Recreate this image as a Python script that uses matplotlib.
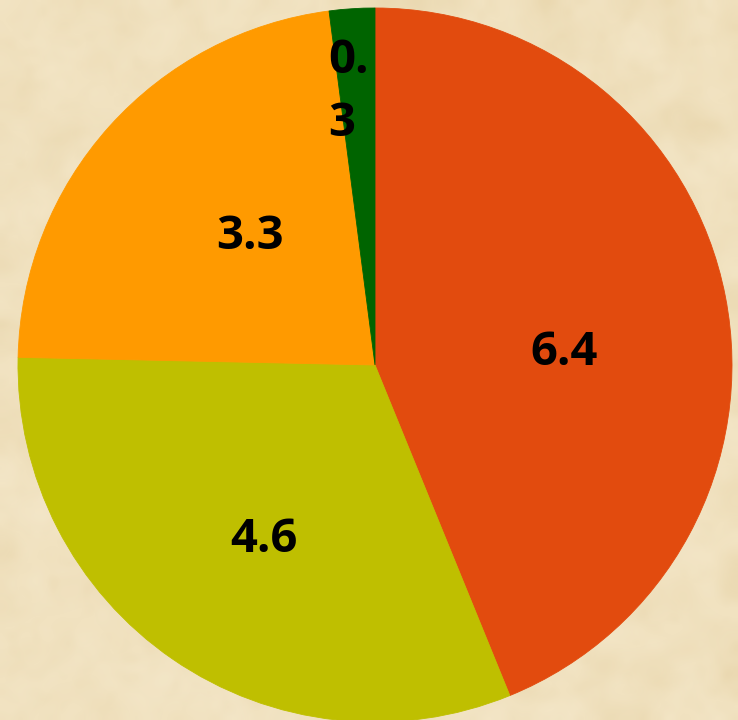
import numpy as np
import matplotlib
matplotlib.use("Agg")
import matplotlib.pyplot as plt
from matplotlib.colors import LinearSegmentedColormap

# Slice values, clockwise from 12 o'clock
values = [6.4, 4.6, 3.3, 0.3]
labels = ["6.4", "4.6", "3.3", "0.\n3"]
colors = ["#E24B0E", "#BFBF00", "#FF9A00", "#006400"]

W, H, DPI = 738, 720, 100
fig = plt.figure(figsize=(W / DPI, H / DPI), dpi=DPI)

# Parchment-like backdrop
bg = fig.add_axes([0, 0, 1, 1])
bg.set_axis_off()
rng = np.random.default_rng(7)
coarse = rng.normal(size=(36, 36))
fine = rng.normal(size=(90, 90))
parch = LinearSegmentedColormap.from_list("parch", ["#E6D2A6", "#F1E2C0", "#F7EBD0"])
bg.imshow(coarse, cmap=parch, interpolation="bicubic", extent=[0, 1, 0, 1],
          aspect="auto", vmin=-2.5, vmax=2.5)
bg.imshow(fine, cmap=parch, interpolation="bicubic", extent=[0, 1, 0, 1],
          aspect="auto", vmin=-3, vmax=3, alpha=0.35)
bg.set_xlim(0, 1)
bg.set_ylim(0, 1)

# Pie axes: centre (375, 365) px from top-left, radius 357 px
cx, cy, r = 375, H - 365, 357
ax = fig.add_axes([(cx - r) / W, (cy - r) / H, 2 * r / W, 2 * r / H])
ax.set_axis_off()
ax.patch.set_alpha(0)

wedges, texts = ax.pie(values, colors=colors, startangle=90, counterclock=False,
                       radius=1.0, labels=labels, labeldistance=0.55,
                       wedgeprops=dict(linewidth=0.6, edgecolor="none"),
                       textprops=dict(fontsize=34, fontweight="bold",
                                      family=["Open Sans", "DejaVu Sans"],
                                      color="black", ha="center", va="center"))
for w, c in zip(wedges, colors):
    w.set_edgecolor(c)

# Label placement inside each slice (data units of the pie)
label_pos = [(0.53, 0.035), (-0.31, -0.49), (-0.35, 0.36), (-0.075, 0.765)]
for t, (x, y) in zip(texts, label_pos):
    t.set_position((x, y))
texts[3].set_multialignment("left")
texts[3].set_linespacing(1.45)

ax.set_xlim(-1, 1)
ax.set_ylim(-1, 1)
ax.set_aspect("equal")

fig.savefig("out.png", dpi=DPI)
